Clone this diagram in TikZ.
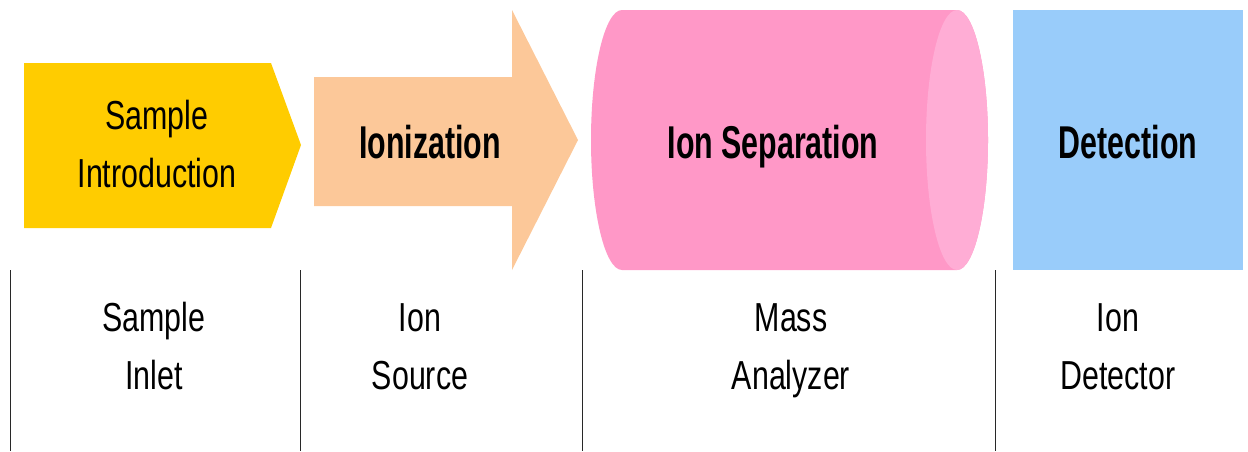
\documentclass[tikz,border=0pt]{standalone}
\usepackage{fontspec}
\setmainfont{Liberation Sans}
% narrow Arial-like faces for the stage labels
\newfontfamily\plainlbl[FakeStretch=0.75]{Liberation Sans}
\newfontfamily\boldlbl[FakeStretch=0.66]{Liberation Sans Bold}

\definecolor{inletyellow}{RGB}{255,204,0}
\definecolor{sourcepeach}{RGB}{252,200,153}
\definecolor{analyzerpink}{RGB}{255,152,199}
\definecolor{analyzercap}{RGB}{255,173,213}
\definecolor{detectorblue}{RGB}{153,204,250}
\definecolor{rulegray}{RGB}{40,40,40}

\tikzset{
  stagelabel/.style={font=\boldlbl\fontsize{46}{52}\selectfont, inner sep=0pt, anchor=base},
  % two-line labels: the base anchor sits on the last line
  partlabel/.style={font=\plainlbl\fontsize{40.5}{58}\selectfont, align=center, inner sep=0pt, anchor=base},
  divider/.style={draw=rulegray, line width=1pt},
}

\begin{document}
\begin{tikzpicture}[x=1pt,y=-1pt]
\useasboundingbox (0,0) rectangle (1248,451);

% sample introduction: pentagon arrow
\fill[inletyellow] (24,63) -- (271,63) -- (301,145) -- (271,228) -- (24,228) -- cycle;
% ionization: block arrow
\fill[sourcepeach] (314,77) -- (512,77) -- (512,10) -- (578,140) -- (512,270)
  -- (512,206) -- (314,206) -- cycle;
% ion separation: cylinder lying on its side
\fill[analyzerpink] (622,10) -- (957,10)
  arc[start angle=90, end angle=-90, x radius=31pt, y radius=130pt]
  -- (622,270)
  arc[start angle=270, end angle=90, x radius=31pt, y radius=130pt] -- cycle;
\fill[analyzercap] (957,140) ellipse[x radius=31pt, y radius=130pt];
% detection: plain block
\fill[detectorblue] (1013,10) rectangle (1243,270);

% stage names
\node[partlabel] (introlbl) at (157,187) {Sample\\Introduction};
\node[stagelabel] (ionizlbl) at (430,158) {Ionization};
\node[stagelabel] (seplbl) at (773,158) {Ion Separation};
\node[stagelabel] (detlbl) at (1128,158) {Detection};

% column dividers
\foreach \i/\x in {1/10, 2/300, 3/582, 4/995} {
  \coordinate (div\i top) at (\x,270);
  \coordinate (div\i bot) at (\x,451);
  \draw[divider] (div\i top) -- (div\i bot);
}

% instrument parts
\node[partlabel] (inletlbl) at (154,389) {Sample\\Inlet};
\node[partlabel] (sourcelbl) at (420,389) {Ion\\Source};
\node[partlabel] (analyzerlbl) at (791,389) {Mass\\Analyzer};
\node[partlabel] (detectorlbl) at (1118,389) {Ion\\Detector};
\end{tikzpicture}
\end{document}
